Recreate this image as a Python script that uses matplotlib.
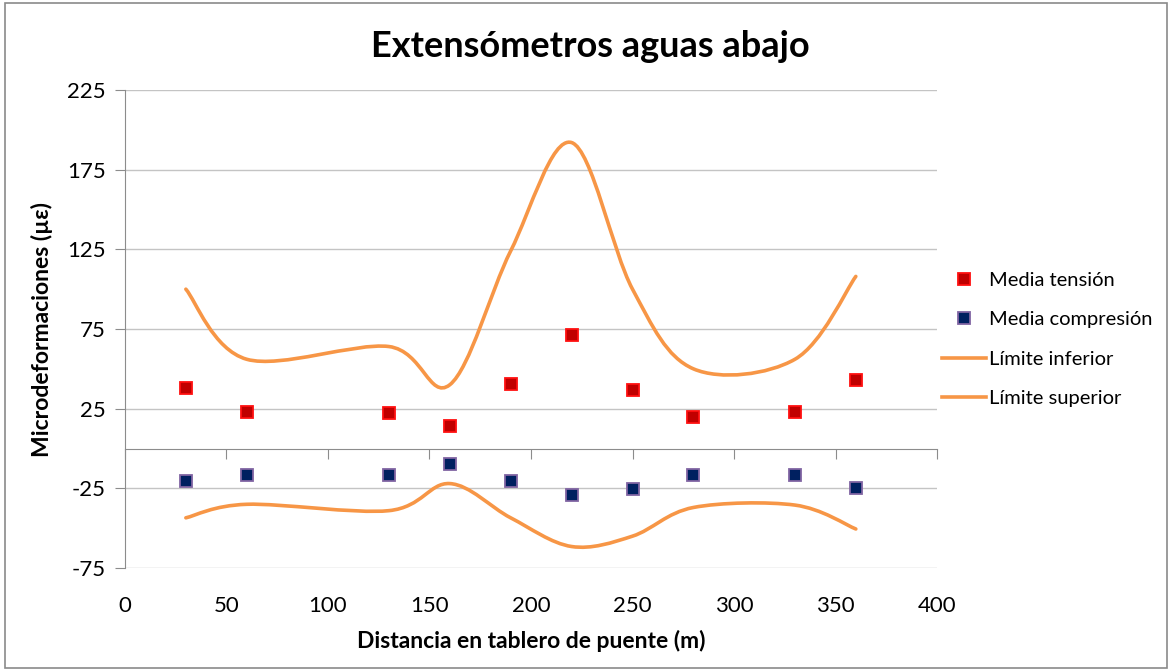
""" strain gauge readings along the bridge deck, downstream side """
import numpy as np
import matplotlib
matplotlib.use("Agg")
import matplotlib.pyplot as plt
from matplotlib.path import Path
from matplotlib.patches import PathPatch, Rectangle
from matplotlib.lines import Line2D

plt.rcParams["font.family"] = ["Lato", "DejaVu Sans"]
plt.rcParams["axes.unicode_minus"] = False

# distance along the deck (m)
distancia = [30, 60, 130, 160, 190, 220, 250, 280, 330, 360]
# mean strains (microstrain)
media_tension = [38, 23, 22, 14, 40.5, 71.5, 37, 20, 23, 43]
media_compresion = [-20.5, -16.5, -16.5, -10, -20.5, -29, -25.5, -16.5, -16.5, -25]
# envelope limits
limite_inferior = [-43.5, -35, -39, -22, -43.5, -61.5, -55, -37, -35.5, -50.5]
limite_superior = [100, 56, 64, 40, 124, 192, 100, 50, 56, 108]

ORANGE = "#F79646"


def smooth_path(x, y):
    # cubic bezier through the points, Catmull-Rom style tangents
    pts = np.column_stack([x, y]).astype(float)
    ext = np.vstack([pts[0], pts, pts[-1]])
    verts = [pts[0]]
    codes = [Path.MOVETO]
    for i in range(len(pts) - 1):
        p0, p1, p2, p3 = ext[i], ext[i + 1], ext[i + 2], ext[i + 3]
        verts += [p1 + (p2 - p0) / 6, p2 - (p3 - p1) / 6, p2]
        codes += [Path.CURVE4] * 3
    return Path(verts, codes)


fig = plt.figure(figsize=(11.71, 6.70), dpi=100, facecolor="w")
ax = fig.add_axes([0.1067, 0.1522, 0.6935, 0.7135])

ax.set_xlim(0, 400)
ax.set_ylim(-75, 225)
ax.set_xticks(np.arange(0, 401, 50))
ax.set_yticks(np.arange(-75, 226, 50))
ax.yaxis.grid(True, color="#c4c4c4", linewidth=1.0)
ax.set_axisbelow(True)

for name in ["right", "bottom"]:
    ax.spines[name].set_visible(False)
ax.spines["left"].set_color("#8c8c8c")
# the top spine doubles as the zero line, ticks hang below it
ax.spines["top"].set_position(("data", 0))
ax.spines["top"].set_color("#8c8c8c")
ax.tick_params(axis="x", top=True, bottom=False, labeltop=False, labelbottom=True,
               direction="in", length=7, color="#8c8c8c", pad=20, labelsize=16)
ax.tick_params(axis="y", direction="out", length=7, color="#8c8c8c", pad=7, labelsize=16)

for lim in (limite_inferior, limite_superior):
    ax.add_patch(PathPatch(smooth_path(distancia, lim), fill=False,
                           edgecolor=ORANGE, linewidth=2.6, capstyle="round", zorder=3))

ax.plot(distancia, media_tension, "s", markersize=9, markerfacecolor="#C00000",
        markeredgecolor="#FF1010", markeredgewidth=1.3, zorder=4)
ax.plot(distancia, media_compresion, "s", markersize=9, markerfacecolor="#002060",
        markeredgecolor="#8064A2", markeredgewidth=1.3, zorder=4)

ax.set_title("Extensómetros aguas abajo", fontsize=26, fontweight="bold", pad=24,
             x=0.573)
ax.set_xlabel("Distancia en tablero de puente (m)", fontsize=16.5, fontweight="bold",
              labelpad=10)
ax.set_ylabel("Microdeformaciones (µε)", fontsize=16.5, fontweight="bold", labelpad=10)

handles = [
    Line2D([], [], linestyle="none", marker="s", markersize=9, markerfacecolor="#C00000",
           markeredgecolor="#FF1010", markeredgewidth=1.3),
    Line2D([], [], linestyle="none", marker="s", markersize=9, markerfacecolor="#002060",
           markeredgecolor="#8064A2", markeredgewidth=1.3),
    Line2D([], [], color=ORANGE, linewidth=2.6),
    Line2D([], [], color=ORANGE, linewidth=2.6),
]
labels = ["Media tensión", "Media compresión", "Límite inferior", "Límite superior"]
fig.legend(handles, labels, loc="upper left", bbox_to_anchor=(0.789, 0.621),
           frameon=False, fontsize=14.5, handlelength=2.2, handletextpad=0.15,
           labelspacing=1.1)

fig.patches.append(Rectangle((0.004, 0.003), 0.993, 0.992, transform=fig.transFigure,
                             fill=False, edgecolor="#8a8a8a", linewidth=1.2))

plt.savefig("out.png", dpi=100, facecolor="w")
